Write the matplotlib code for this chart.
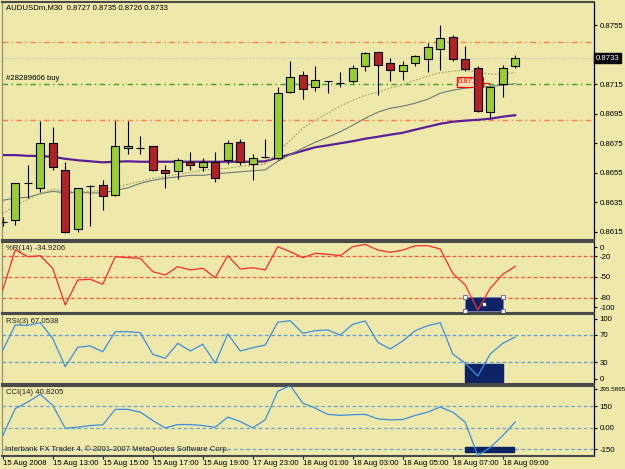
import matplotlib.pyplot as plt
from matplotlib.patches import Rectangle
import numpy as np

# AUDUSDm M30 candles
opens = [0.8622, 0.8623, 0.8648, 0.8645, 0.8675, 0.8657, 0.8617, 0.8646, 0.8647, 0.8640,
         0.8672, 0.8672, 0.8673, 0.8657, 0.8656, 0.8662, 0.8659, 0.8662, 0.86635, 0.8676,
         0.8661, 0.8666, 0.8665, 0.8710, 0.8721, 0.8713, 0.8717, 0.87155, 0.8717, 0.8727,
         0.87365, 0.8729, 0.8724, 0.8729, 0.8732, 0.8739, 0.8747, 0.8732, 0.8726, 0.8696,
         0.8715, 0.8727]
highs = [0.8625, 0.8648, 0.8660, 0.8690, 0.8686, 0.8662, 0.8645, 0.8647, 0.8650, 0.8690,
         0.8690, 0.8680, 0.8673, 0.8660, 0.8665, 0.8669, 0.8665, 0.8669, 0.86775, 0.8678,
         0.8668, 0.8678, 0.8713, 0.8731, 0.8724, 0.8727, 0.8717, 0.8723, 0.8728, 0.8737,
         0.8737, 0.8733, 0.8731, 0.8735, 0.8743, 0.8755, 0.8748, 0.8741, 0.8727, 0.8714,
         0.8728, 0.8735]
lows = [0.8619, 0.8620, 0.8638, 0.8642, 0.8657, 0.8614, 0.8615, 0.8619, 0.8630, 0.8639,
        0.8668, 0.8668, 0.8656, 0.8645, 0.8651, 0.8657, 0.8656, 0.8649, 0.8661, 0.8660,
        0.8650, 0.8665, 0.8664, 0.8709, 0.8705, 0.87105, 0.8709, 0.8713, 0.87155, 0.8724,
        0.8708, 0.8717, 0.8718, 0.8727, 0.8723, 0.87245, 0.8731, 0.8724, 0.8696, 0.8692,
        0.8706, 0.8726]
closes = [0.8622, 0.8648, 0.8648, 0.8675, 0.8659, 0.8615, 0.8645, 0.8646, 0.8639, 0.8673,
          0.8673, 0.8672, 0.8657, 0.8655, 0.8664, 0.8660, 0.8662, 0.86515, 0.86755, 0.8662,
          0.8665, 0.8666, 0.8709, 0.8720, 0.8712, 0.8718, 0.8717, 0.87155, 0.8726, 0.8736,
          0.8728, 0.87245, 0.8728, 0.8734, 0.8740, 0.8746, 0.8732, 0.8725, 0.8697, 0.8713,
          0.8726, 0.8733]

ma_fast = [0.86275, 0.8633, 0.8637, 0.86411, 0.86438, 0.86428, 0.86418, 0.86425, 0.86431, 0.86452,
           0.86472, 0.86492, 0.86513, 0.86526, 0.8654, 0.86553, 0.86567, 0.86574, 0.86581, 0.86594,
           0.86601, 0.86611, 0.86689, 0.8677, 0.86852, 0.86906, 0.86953, 0.87001, 0.87042, 0.87075,
           0.87096, 0.87123, 0.87147, 0.87177, 0.87204, 0.87228, 0.87238, 0.87245, 0.87231, 0.87218,
           0.87218, 0.87228]
ma_mid = [0.86364, 0.8638, 0.86384, 0.86408, 0.86425, 0.86414, 0.86418, 0.86414, 0.86414, 0.86431,
          0.86448, 0.86479, 0.86499, 0.86513, 0.86523, 0.86533, 0.86533, 0.86543, 0.8655, 0.86557,
          0.86564, 0.8657, 0.86628, 0.86675, 0.86716, 0.86757, 0.86791, 0.86828, 0.86872, 0.86919,
          0.8696, 0.86987, 0.87001, 0.87021, 0.87048, 0.87089, 0.87109, 0.87123, 0.8713, 0.87136,
          0.87143, 0.87153]
ma_slow = [0.8667, 0.8667, 0.86665, 0.86664, 0.86658, 0.86645, 0.86635, 0.86628, 0.86621, 0.86625,
           0.86628, 0.86625, 0.86625, 0.86625, 0.86625, 0.86625, 0.86625, 0.86625, 0.86625, 0.86625,
           0.86625, 0.86628, 0.86652, 0.86675, 0.86699, 0.86723, 0.86736, 0.8675, 0.86764, 0.86781,
           0.86794, 0.86808, 0.86821, 0.86842, 0.86862, 0.86882, 0.86896, 0.86903, 0.86909, 0.86916,
           0.8693, 0.8694]

wpr = [-69, -11, -21, -19.5, -37.7, -90.5, -54.5, -53.5, -60.7, -21,
       -22.4, -23.3, -42.6, -47.3, -35.4, -40, -37.7, -51.2, -19.5, -38.7,
       -36.8, -40.1, -6.6, -13.8, -22.4, -16.1, -17.6, -19.5, -6.6, -3.2,
       -11.4, -14.7, -11.4, -5.2, -5.2, -9.9, -44.9, -61.7, -97.7, -66.5,
       -46.3, -34.92]
rsi = [47.6, 84.6, 84, 88, 65, 23.6, 52, 53.9, 45.5, 74.8,
       74.8, 73.4, 41.7, 35.9, 57.8, 46.6, 56.4, 28.6, 71.4, 46.6,
       51.4, 55.3, 88.6, 90.9, 72.5, 76.3, 77.3, 70, 85.6, 90.5,
       59.3, 49.5, 61.2, 76.3, 83.6, 88, 42.2, 28.6, 10, 42.2,
       57.8, 67.05]
cci = [-54, 134, 180, 234, 157, -3, 4, 16, 21, 129,
       129, 110, 51, 0, 23, 23, 16, 4, 75, 44,
       0, 56, 255, 295.59, 173, 138, 94, 87, 92, 94,
       63, 56, 58, 87, 110, 145, 110, 39, -193.11, -137,
       -54, 40.82]

price_ticks = [0.8755, 0.8735, 0.8715, 0.8695, 0.8675, 0.8655, 0.8635, 0.8615]
time_labels = ["15 Aug 2008", "15 Aug 13:00", "15 Aug 15:00", "15 Aug 17:00", "15 Aug 19:00",
               "17 Aug 23:00", "18 Aug 01:00", "18 Aug 03:00", "18 Aug 05:00", "18 Aug 07:00",
               "18 Aug 09:00"]

bg = "#eee8aa"
W, H = 625, 469
plt.rcParams['font.family'] = ['Liberation Sans', 'DejaVu Sans']
plt.rcParams['font.size'] = 5.6

fig = plt.figure(figsize=(W / 100, H / 100), dpi=100, facecolor=bg)
bars = np.arange(len(opens))


def panel(top, bottom):
    ax = fig.add_axes([2 / W, 1 - bottom / H, 592 / W, (bottom - top) / H])
    ax.set_facecolor(bg)
    ax.set_xlim(-0.06, 47.3)
    ax.yaxis.tick_right()
    ax.tick_params(axis='y', length=2.5, width=0.8, pad=1.5, labelsize=5.6)
    ax.tick_params(axis='x', bottom=False, labelbottom=False)
    for s in ['top', 'bottom']:
        ax.spines[s].set_color('#4a4a4a')
        ax.spines[s].set_linewidth(1.5)
    ax.spines['left'].set_color('#8a8a80')
    ax.spines['right'].set_color('black')
    ax.spines['right'].set_linewidth(0.9)
    return ax


dashdot = (0, (4, 2.5, 1, 2.5))

# main price panel
ax = panel(2, 240.5)
ax.set_ylim(0.86092, 0.87706)
# 0.8735 sits under the current-price box, so its label is left blank
ax.set_yticks(price_ticks, ['' if t == 0.8735 else '%.4f' % t for t in price_ticks])
ax.axhline(0.87437, color='#ff7f45', lw=1, ls=dashdot, zorder=1)
ax.axhline(0.86908, color='#ff7f45', lw=1, ls=dashdot, zorder=1)
ax.axhline(0.8715, color='#44a030', lw=1, ls=dashdot, zorder=1)
ax.axhline(0.8733, color='#c4c4c4', lw=0.8, ls=':', zorder=1)

ax.plot(bars, ma_slow, color='#5c1e96', lw=1.6, zorder=2)
ax.plot(bars, ma_mid, color='#6e7a78', lw=0.8, zorder=2)
ax.plot(bars, ma_fast, color='#98a25a', lw=0.8, ls=(0, (1.5, 1.5)), zorder=2)

ax.text(36.4, 0.87165, "0.8716", color='red', va='center', ha='left', zorder=2.5,
        bbox=dict(boxstyle='square,pad=0.15', fc='#f6d9b0', ec='red', lw=0.8))
ax.hlines(0.87158, 38.0, 39.0, color='red', lw=0.8, zorder=2.5)

o = np.array(opens)
c = np.array(closes)
body_lo = np.minimum(o, c)
body_h = np.abs(c - o)
up = c > o
dn = c < o
flat = ~(up | dn)
ax.vlines(bars, lows, highs, color='black', lw=0.8, zorder=3)
ax.bar(bars[up], body_h[up], 0.62, bottom=body_lo[up], color='#9acd32',
       edgecolor='black', lw=0.8, zorder=4)
ax.bar(bars[dn], body_h[dn], 0.62, bottom=body_lo[dn], color='#b22222',
       edgecolor='black', lw=0.8, zorder=4)
ax.hlines(o[flat], bars[flat] - 0.31, bars[flat] + 0.31, color='black', lw=0.8, zorder=4)

fig.text(6 / W, 1 - 8 / H, "AUDUSDm,M30  0.8727 0.8735 0.8726 0.8733", va='center')
fig.text(6 / W, 1 - 79 / H, "#28289606 buy", va='center')
fig.text(596 / W, 1 - 58 / H, "0.8733", va='center', color='white',
         bbox=dict(boxstyle='square,pad=0.2', fc='black', ec='black'))

# Williams %R
ax1 = panel(242, 312.5)
ax1.set_ylim(-101.3, 0.15)
for lv in (-20, -50, -80):
    ax1.axhline(lv, color='#ff5533', lw=0.9, ls=(0, (3, 2)), zorder=1)
ax1.add_patch(Rectangle((37, -99.1), 3.0, 20.5, fc='#0c2466', ec='#7a7ab8', lw=0.5, zorder=2))
ax1.plot(bars, wpr, color='#ff2a2a', lw=0.9, zorder=3)
ax1.scatter([37, 40, 37, 40], [-78.6, -78.6, -99.1, -99.1], marker='s', s=7, fc='white',
            ec='#6060a0', lw=0.6, zorder=4, clip_on=False)
ax1.scatter([38.5], [-88.8], marker='s', s=4, c='white', zorder=4)
ax1.set_yticks([-7.5, -20, -50, -80, -94], ['0', '-20', '-50', '-80', '-100'])
fig.text(6 / W, 1 - 249 / H, "%R(14) -34.9206", va='center', color='#222222')

# RSI
ax2 = panel(314, 384)
ax2.set_ylim(-1.76, 100.7)
for lv in (70, 30):
    ax2.axhline(lv, color='#5f9fd6', lw=0.9, ls=(0, (3, 2)), zorder=1)
ax2.add_patch(Rectangle((37, 1.6), 3.0, 25.9, fc='#0c2466', ec='#0c2466', zorder=2))
ax2.plot(bars, rsi, color='#3d8fdf', lw=0.9, zorder=3)
ax2.set_yticks([93.4, 70, 30, 5.6], ['100', '70', '30', '0'])
fig.text(6 / W, 1 - 321 / H, "RSI(3) 67.0538", va='center', color='#222222')

# CCI
ax3 = panel(385.5, 455.5)
ax3.set_ylim(-193.114, 295.5865)
for lv in (150, 0, -150):
    ax3.axhline(lv, color='#74a6cc', lw=0.9, ls=(0, (3, 2)), zorder=1)
ax3.add_patch(Rectangle((37, -170.8), 3.9, 37, fc='#0c2466', ec='#0c2466', zorder=2))
ax3.plot(bars, cci, color='#3d8fdf', lw=0.9, zorder=3)
ax3.set_yticks([269, 150, 0, -150], ['295.5865', '150', '0.00', '-150'])
ax3.get_yticklabels()[0].set_fontsize(4.5)
fig.text(6 / W, 1 - 392 / H, "CCI(14) 40.8205", va='center', color='#222222')
fig.text(5 / W, 1 - 449 / H, "Interbank FX Trader 4, \u00a9 2001-2007 MetaQuotes Software Corp.",
         va='center', color='#222222')

ax3.set_xticks(bars[::4], time_labels)
ax3.tick_params(axis='x', bottom=True, labelbottom=True, length=2, width=0.8, pad=1)
for lbl in ax3.get_xticklabels():
    lbl.set_ha('left')

fig.savefig('out.png', dpi=100, facecolor=bg)
